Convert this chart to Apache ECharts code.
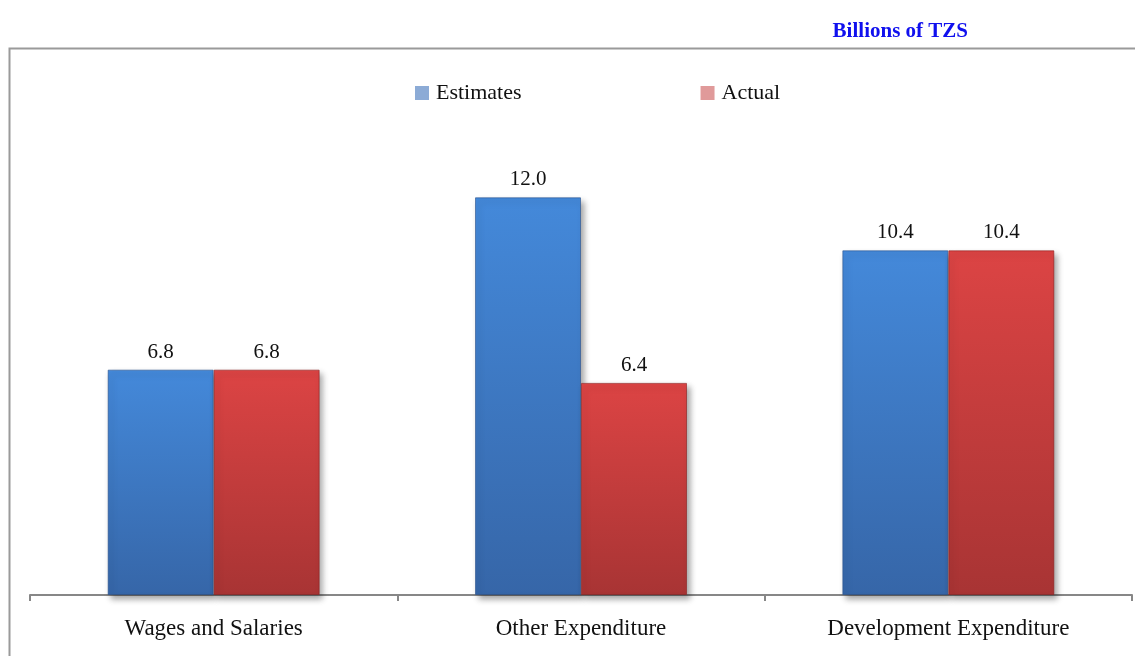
<!DOCTYPE html>
<html>
<head>
<meta charset="utf-8">
<script src="https://cdn.jsdelivr.net/npm/echarts@6/dist/echarts.min.js"></script>
<style>
  html, body { margin: 0; padding: 0; background: #fff; }
  #chart { width: 1135px; height: 656px; }
</style>
</head>
<body>
<div id="chart"></div>
<script>
// Expenditure: estimates vs actual, billions of TZS
var categories = ['Wages and Salaries', 'Other Expenditure', 'Development Expenditure'];
var estimates = [6.8, 12.0, 10.4];
var actual = [6.8, 6.4, 10.4];
var seriesNames = ['Estimates', 'Actual'];

var serif = '"Liberation Serif", "DejaVu Serif", serif';

function barFill(top, bottom) {
  return new echarts.graphic.LinearGradient(0, 0, 0, 1, [
    { offset: 0, color: top },
    { offset: 1, color: bottom }
  ]);
}

function valueLabel() {
  return {
    show: true,
    position: 'top',
    distance: 7,
    fontFamily: serif,
    fontSize: 21,
    color: '#111',
    formatter: function (p) { return p.value.toFixed(1); }
  };
}

var chart = echarts.init(document.getElementById('chart'));

chart.setOption({
  backgroundColor: '#ffffff',
  animation: false,
  title: {
    text: 'Billions of TZS',
    right: 162,
    top: 16,
    textStyle: { fontFamily: serif, fontSize: 21, fontWeight: 'bold', color: '#1010ee' }
  },
  legend: {
    data: [
      { name: seriesNames[0], itemStyle: { color: '#8cabd6', borderWidth: 0, shadowBlur: 0 } },
      { name: seriesNames[1], itemStyle: { color: '#e09a9a', borderWidth: 0, shadowBlur: 0 } }
    ],
    top: 77,
    left: 410,
    itemWidth: 14,
    itemHeight: 14,
    itemGap: 179,
    icon: 'rect',
    textStyle: { fontFamily: serif, fontSize: 22, color: '#111', padding: [0, 0, 0, 2] }
  },
  graphic: [
    {
      type: 'polyline',
      shape: { points: [[9.5, 656], [9.5, 48.5], [1135, 48.5]] },
      style: { stroke: '#9a9a9a', lineWidth: 2, fill: null },
      z: -1
    }
  ],
  grid: { left: 30, right: 3, top: 131, bottom: 61 },
  xAxis: {
    type: 'category',
    data: categories,
    boundaryGap: true,
    axisLine: { lineStyle: { color: '#878787', width: 2 } },
    axisTick: { show: true, length: 6, lineStyle: { color: '#878787', width: 2 } },
    axisLabel: { fontFamily: serif, fontSize: 23, color: '#111', margin: 22 }
  },
  yAxis: {
    type: 'value',
    min: 0,
    max: 14,
    show: false,
    splitLine: { show: false }
  },
  series: [
    {
      name: seriesNames[0],
      type: 'bar',
      data: estimates,
      barWidth: 106,
      barGap: '0%',
      itemStyle: {
        color: barFill('#4489da', '#3666a8'),
        borderColor: 'rgba(40,80,140,0.6)',
        borderWidth: 1,
        shadowColor: 'rgba(0,0,0,0.35)',
        shadowBlur: 6,
        shadowOffsetX: 3,
        shadowOffsetY: 4
      },
      label: valueLabel()
    },
    {
      name: seriesNames[1],
      type: 'bar',
      data: actual,
      barWidth: 106,
      barGap: '0%',
      itemStyle: {
        color: barFill('#dc4444', '#a83434'),
        borderColor: 'rgba(140,30,30,0.6)',
        borderWidth: 1,
        shadowColor: 'rgba(0,0,0,0.35)',
        shadowBlur: 6,
        shadowOffsetX: 3,
        shadowOffsetY: 4
      },
      label: valueLabel()
    }
  ]
});
</script>
</body>
</html>
